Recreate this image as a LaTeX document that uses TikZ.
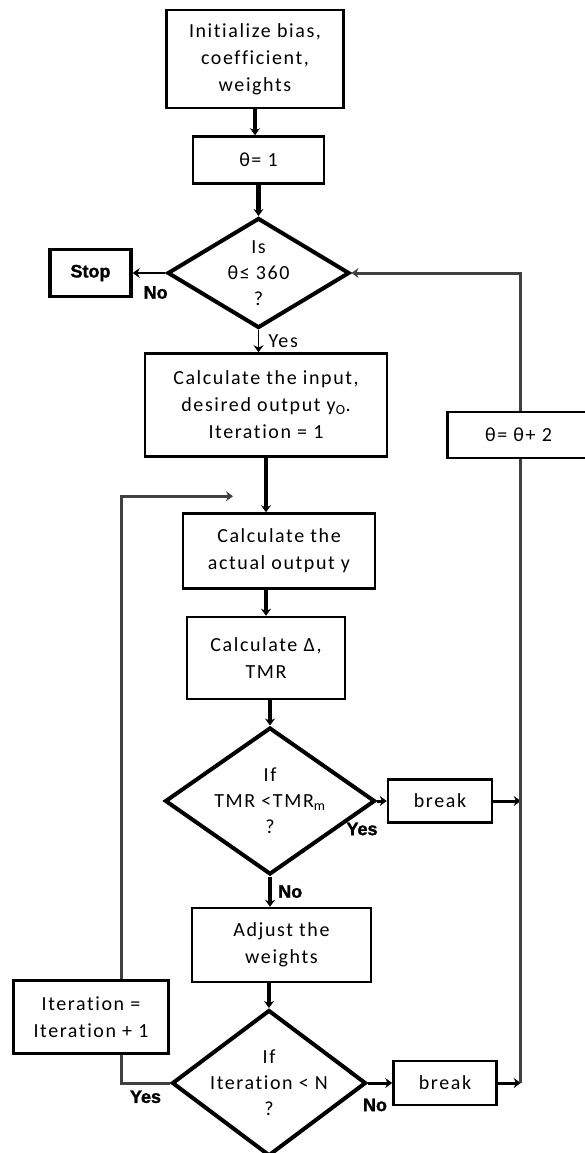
\documentclass[tikz,border=0pt]{standalone}
\usepackage{fontspec}
\setmainfont{Carlito}[LetterSpace=8.0, Ligatures=NoCommon]
\newfontfamily\lblfont{Liberation Sans}[BoldFeatures={FakeBold=1.5}]
\usepackage{tikz}
\usetikzlibrary{shapes.geometric, arrows.meta}
\tikzstyle{process} = [rectangle, draw=black, line width=2.5pt, align=center, inner sep=0pt, font=\fontsize{20}{27}\selectfont]
\tikzstyle{decision} = [diamond, draw=black, line width=4pt, aspect=1.5, inner sep=-8pt, align=center, font=\fontsize{20}{26}\selectfont]
\tikzstyle{startstop} = [rectangle, draw=black, line width=3.5pt, font=\lblfont\bfseries\fontsize{18}{20}\selectfont]
\tikzstyle{yesno} = [font=\lblfont\bfseries\fontsize{18}{20}\selectfont, inner sep=0pt]
\tikzstyle{arrow} = [line width=4.5pt, ->, >={Stealth[length=7pt,width=10pt]}]
\tikzstyle{line} = [line width=3pt, draw=black!75]
\usepackage{xcolor}

\begin{document}
\begin{tikzpicture}
    \useasboundingbox (0,0) rectangle (585pt,-1153pt);
    \node (init) [process, minimum width=177pt, minimum height=98pt] at (255pt,-59pt) {Initialize bias,\\ coefficient,\\ weights};
    \node (theta1) [process, below of=init, node distance=101pt, xshift=3.5pt, minimum width=131pt, minimum height=47pt] {θ= 1};
    \node (isq) [decision, below of=theta1, node distance=113pt, minimum width=182pt, minimum height=110pt] {Is\\ θ≤ 360\\ ?};
    \node (stop) [startstop, left of=isq, node distance=168pt, minimum width=81pt, minimum height=47pt] {Stop};
    \node (calcin) [process, below of=isq, node distance=132pt, xshift=7.5pt, minimum width=242pt, minimum height=103pt] {Calculate the input,\\ desired output y\textsubscript{O}.\\ Iteration = 1};
    \node (thetainc) [process, right of=calcin, node distance=252.5pt, yshift=-30pt, minimum width=142pt, minimum height=46pt] {θ= θ+ 2};
    \node (calcout) [process, below of=calcin, node distance=146pt, xshift=13pt, minimum width=192pt, minimum height=75pt] {Calculate the\\ actual output y};
    \node (calcd) [process, below of=calcout, node distance=107pt, xshift=-13pt, minimum width=158pt, minimum height=82pt] {Calculate Δ,\\ TMR};
    \node (iftmr) [decision, below of=calcd, node distance=143pt, xshift=4pt, minimum width=210pt, minimum height=147pt] {If\\ TMR <TMR\textsubscript{m}\\ ?};
    \node (break1) [process, right of=iftmr, node distance=170pt, minimum width=104pt, minimum height=43pt] {break};
    \node (adjust) [process, below of=iftmr, node distance=144pt, xshift=11.5pt, minimum width=179pt, minimum height=74pt] {Adjust the\\ weights};
    \node (ifit) [decision, below of=adjust, node distance=138pt, xshift=-12.5pt, minimum width=194pt, minimum height=146pt] {If\\ Iteration < N\\ ?};
    \node (break2) [process, right of=ifit, node distance=176pt, minimum width=103pt, minimum height=44pt] {break};
    \node (iterinc) [process, left of=ifit, node distance=178pt, yshift=66pt, minimum width=155pt, minimum height=73pt] {Iteration =\\ Iteration + 1};

    \coordinate (jn2) at ([xshift=23pt]break2.east);
    \coordinate (jn1) at (jn2 |- break1.east);
    \coordinate (loopin) at ([xshift=-46pt, yshift=16pt]calcout.north);

    \draw [arrow] (init) -- (init |- theta1.north);
    \draw [arrow] (theta1) -- (theta1 |- isq.north);
    \draw [arrow, line width=2.5pt] (isq) -- node [yesno, below=12pt, pos=0.3] {No} (stop);
    \draw [arrow, line width=1.5pt] (isq) -- node [right=6pt, font=\fontsize{20}{24}\selectfont] {Yes} (isq |- calcin.north);
    \draw [arrow] (calcin) -- (calcin |- calcout.north);
    \draw [arrow] (calcout.south -| calcd) -- (calcd);
    \draw [arrow] (calcd.south -| iftmr) -- (iftmr);
    \draw [arrow, line width=3pt] (iftmr) -- node [yesno, pos=0, xshift=-15pt, yshift=-28pt] {Yes} (break1);
    \draw [arrow] (iftmr) -- node [yesno, right=6pt] {No} (iftmr |- adjust.north);
    \draw [arrow] (adjust.south -| ifit) -- (ifit);
    \draw [arrow, line width=3pt] (ifit) -- node [yesno, pos=0, xshift=7pt, yshift=-22pt] {No} (break2);

    \draw [arrow, line width=3pt] (break1) -- (jn1);
    \draw [arrow, line width=3pt] (break2) -- (jn2);
    \draw [line] (jn2) -- (jn2 |- thetainc.south);
    \draw [arrow, line width=3pt, draw=black!75] (jn2 |- thetainc.north) |- (isq);

    \draw [line] (ifit) -| node [yesno, below=6pt, pos=0.25] {Yes} ([xshift=30pt]iterinc.south);
    \draw [arrow, line width=3pt, draw=black!75] ([xshift=30pt]iterinc.north) |- (loopin);
\end{tikzpicture}
\end{document}
